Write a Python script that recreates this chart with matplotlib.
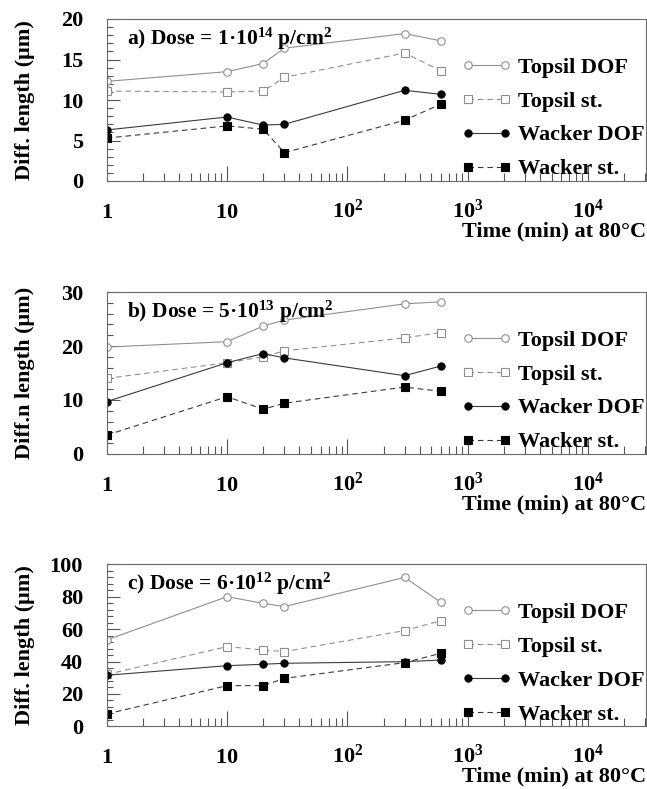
import matplotlib
matplotlib.use("Agg")
import matplotlib.pyplot as plt
import numpy as np
from matplotlib.ticker import LogLocator, MultipleLocator, AutoMinorLocator, NullFormatter

plt.rcParams['font.family'] = ['Liberation Serif', 'DejaVu Serif']
plt.rcParams['font.weight'] = 'bold'
plt.rcParams['mathtext.fontset'] = 'custom'
plt.rcParams['mathtext.rm'] = 'Liberation Serif:bold'
plt.rcParams['mathtext.it'] = 'Liberation Serif:italic:bold'
plt.rcParams['mathtext.bf'] = 'Liberation Serif:bold'

# ---------------- data ----------------
time_min = [1, 10, 20, 30, 300, 600]

series_names = ["Topsil DOF", "Topsil st.", "Wacker DOF", "Wacker st."]

# panel a) dose 1e14
topsil_dof_a = [12.3, 13.5, 14.5, 16.4, 18.2, 17.3]
topsil_st_a = [11.1, 11.0, 11.1, 12.8, 15.8, 13.6]
wacker_dof_a = [6.3, 7.9, 6.9, 7.0, 11.2, 10.7]
wacker_st_a = [5.3, 6.8, 6.4, 3.5, 7.5, 9.5]

# panel b) dose 5e13
topsil_dof_b = [19.8, 20.8, 23.7, 24.8, 27.8, 28.2]
topsil_st_b = [14.0, 16.9, 18.0, 19.1, 21.5, 22.5]
wacker_dof_b = [9.7, 16.9, 18.6, 17.8, 14.5, 16.3]
wacker_st_b = [3.5, 10.6, 8.3, 9.4, 12.4, 11.6]

# panel c) dose 6e12
topsil_dof_c = [53.3, 80.0, 75.9, 73.9, 91.9, 76.5]
topsil_st_c = [32.0, 49.2, 47.1, 46.1, 59.1, 65.2]
wacker_dof_c = [31.5, 37.4, 38.3, 38.9, 39.9, 40.9]
wacker_st_c = [7.6, 25.1, 25.1, 29.6, 39.3, 45.1]

panel_titles = [r"a) Dose = 1·10$^{14}$ p/cm$^{2}$",
                r"b) Dose = 5·10$^{13}$ p/cm$^{2}$",
                r"c) Dose = 6·10$^{12}$ p/cm$^{2}$"]
y_labels = ["Diff. length (μm)", "Diff.n length (μm)", "Diff. length (μm)"]
y_max = [20, 30, 100]
y_step = [5, 10, 20]
x_major = [1, 10, 100, 1000, 10000]
x_major_labels = [r"$1$", r"$10$", r"$10^{2}$", r"$10^{3}$", r"$10^{4}$"]
x_label = "Time (min) at 80°C"

panels = [
    [topsil_dof_a, topsil_st_a, wacker_dof_a, wacker_st_a],
    [topsil_dof_b, topsil_st_b, wacker_dof_b, wacker_st_b],
    [topsil_dof_c, topsil_st_c, wacker_dof_c, wacker_st_c],
]

# ---------------- style ----------------
gray = '#8f8f8f'
dark = '#3a3a3a'
styles = [
    dict(color=gray, ls='-', marker='o', mfc='white', mec=gray, ms=5.4, mew=0.8, lw=0.8),
    dict(color=gray, ls=(0, (5, 3.5)), marker='s', mfc='white', mec=gray, ms=5.4, mew=0.8, lw=0.8),
    dict(color=dark, ls='-', marker='o', mfc='black', mec='black', ms=5.2, mew=0.8, lw=0.8),
    dict(color=dark, ls=(0, (5, 3.5)), marker='s', mfc='black', mec='black', ms=5.2, mew=0.8, lw=0.8),
]

W, H = 647, 789
fig = plt.figure(figsize=(W / 100, H / 100), dpi=100)

left_px, right_px = 106.7, 646.0
bottoms_px = [181.0, 454.0, 726.3]
ax_h_px = 162.0
FS = 16

for i, data in enumerate(panels):
    ax = fig.add_axes([left_px / W, 1 - bottoms_px[i] / H,
                       (right_px - left_px) / W, ax_h_px / H])
    handles = []
    for s, vals in enumerate(data):
        ln, = ax.plot(time_min, vals, label=series_names[s], **styles[s])
        handles.append(ln)
    ax.set_xscale('log')
    ax.set_xlim(1, 10 ** ((right_px - left_px) / 120.3))
    ax.set_ylim(0, y_max[i])

    ax.yaxis.set_major_locator(MultipleLocator(y_step[i]))
    ax.yaxis.set_minor_locator(AutoMinorLocator(5))
    ax.set_xticks(x_major, x_major_labels)
    ax.xaxis.set_minor_locator(LogLocator(base=10, subs=np.arange(2, 10)))
    ax.xaxis.set_minor_formatter(NullFormatter())

    for sp in ax.spines.values():
        sp.set_color('#6a6a6a')
        sp.set_linewidth(0.8)

    ax.tick_params(axis='x', which='major', direction='in', length=11, width=0.8,
                   color='#555555', labelsize=FS, pad=26.6, top=False)
    ax.tick_params(axis='x', which='minor', direction='in', length=5.8, width=0.8,
                   color='#555555', top=False)
    ax.tick_params(axis='y', which='major', direction='in', length=9, width=0.8,
                   color='#555555', labelsize=FS, pad=17, right=False)
    ax.tick_params(axis='y', which='minor', direction='in', length=4.5, width=0.8,
                   color='#555555', right=False)
    for lab in ax.get_xticklabels():
        lab.set_va('baseline')

    ax.set_ylabel(y_labels[i], fontsize=FS, fontweight='bold')
    ax.yaxis.set_label_coords(-0.152, 0.5)
    ax.yaxis.label.set_va('center')

    ax.set_xlabel(x_label, fontsize=FS, fontweight='bold')
    ax.xaxis.set_label_coords(1.0, -50 / ax_h_px)
    ax.xaxis.label.set_ha('right')
    ax.xaxis.label.set_va('center')

    ax.text(0.038, 0.84, panel_titles[i], transform=ax.transAxes,
            fontsize=15.5, fontweight='bold', va='baseline', ha='left')

    ax.legend(handles=handles, loc='upper left', bbox_to_anchor=(0.6575, 0.765),
              frameon=False, handlelength=2.26, handletextpad=0.28,
              labelspacing=0.6, borderpad=0, borderaxespad=0, numpoints=2,
              prop={'weight': 'bold', 'size': FS})

fig.savefig("out.png", dpi=100, facecolor='white')
